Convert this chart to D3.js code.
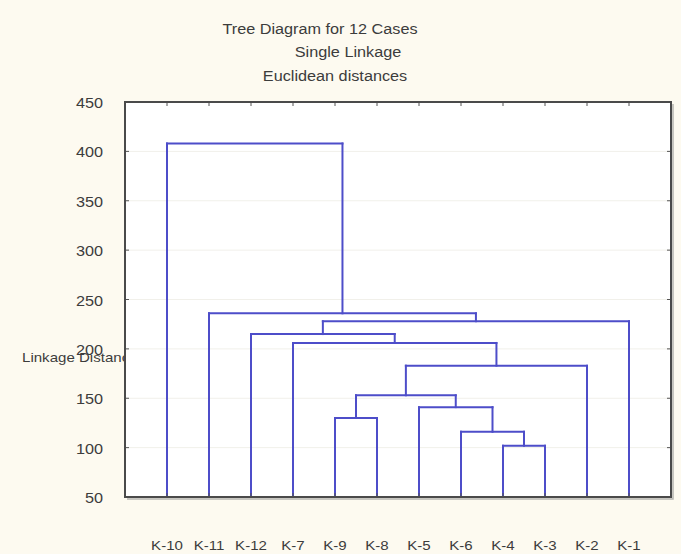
<!DOCTYPE html>
<html>
<head>
<meta charset="utf-8">
<script src="https://cdn.jsdelivr.net/npm/d3@7"></script>
<style>
  html, body { margin: 0; padding: 0; background: #fdfaf0; }
  svg { display: block; }
  text { font-family: "Liberation Sans", Arial, sans-serif; fill: #3c3c3c; }
</style>
</head>
<body>
<svg id="chart" width="681" height="554"></svg>
<script>
// Cases in dendrogram leaf order (left to right)
const cases = ["K-10", "K-11", "K-12", "K-7", "K-9", "K-8", "K-5", "K-6", "K-4", "K-3", "K-2", "K-1"];

// Single-linkage merge steps: merge i creates cluster "#i" from mergeLeft[i] and mergeRight[i]
const mergeLeft   = ["K-4", "K-6", "K-9", "K-5", "#2", "#4", "K-7", "K-12", "#7", "K-11", "K-10"];
const mergeRight  = ["K-3", "#0",  "K-8", "#1",  "#3", "K-2", "#5", "#6",   "K-1", "#8",  "#9"];
const mergeHeight = [102,   116,   130,   141,   153,  183,   206,  215,    228,   236,   408];

// Axis ticks
const yTicks = [50, 100, 150, 200, 250, 300, 350, 400, 450];
const titleLines = ["Tree Diagram for 12 Cases", "Single Linkage", "Euclidean distances"];
const yLabel = "Linkage Distance";

const svg = d3.select("#chart");
const plot = { left: 125, right: 671, top: 102, bottom: 497 };

const x = d3.scalePoint().domain(cases).range([plot.left, plot.right]).padding(1);
const y = d3.scaleLinear().domain([50, 450]).range([plot.bottom, plot.top]);

const stretch = 1.16; // wide rendering of the chart's lettering

function addText(g, str, tx, ty, size, anchor) {
  return g.append("text")
    .attr("transform", `translate(${tx},${ty}) scale(${stretch},1)`)
    .attr("font-size", size)
    .attr("text-anchor", anchor)
    .text(str);
}

// Titles
const titleCenters = [320, 348, 335];
const titleBaselines = [34, 57, 81];
titleLines.forEach((t, i) => addText(svg, t, titleCenters[i], titleBaselines[i], 14, "middle"));

// Y axis title (partly covered by the plot frame)
addText(svg, yLabel, 22, 362, 13, "start");

// Plot background
svg.append("rect")
  .attr("x", plot.left).attr("y", plot.top)
  .attr("width", plot.right - plot.left).attr("height", plot.bottom - plot.top)
  .attr("fill", "#ffffff");

// Faint horizontal gridlines
svg.append("g").selectAll("line").data(yTicks.slice(1, -1)).join("line")
  .attr("x1", plot.left).attr("x2", plot.right)
  .attr("y1", d => y(d)).attr("y2", d => y(d))
  .attr("stroke", "#f1f0ea").attr("stroke-width", 1);

// Resolve cluster positions and heights
const node = {};
cases.forEach(c => { node[c] = { x: x(c), h: y.domain()[0] }; });
const segs = [];
mergeHeight.forEach((h, i) => {
  const a = node[mergeLeft[i]], b = node[mergeRight[i]];
  segs.push({ x1: a.x, y1: y(h), x2: b.x, y2: y(h) });   // crossbar
  segs.push({ x1: a.x, y1: y(a.h), x2: a.x, y2: y(h) }); // left leg
  segs.push({ x1: b.x, y1: y(b.h), x2: b.x, y2: y(h) }); // right leg
  node["#" + i] = { x: (a.x + b.x) / 2, h: h };
});

svg.append("g").selectAll("line").data(segs).join("line")
  .attr("x1", d => d.x1).attr("y1", d => d.y1)
  .attr("x2", d => d.x2).attr("y2", d => d.y2)
  .attr("stroke", "#4d4dc9").attr("stroke-width", 2)
  .attr("stroke-linecap", "square");

// Tick marks on all four sides, pointing inward
const tickG = svg.append("g").attr("stroke", "#555").attr("stroke-width", 1);
yTicks.forEach(t => {
  tickG.append("line").attr("x1", plot.left).attr("x2", plot.left + 4).attr("y1", y(t)).attr("y2", y(t));
  tickG.append("line").attr("x1", plot.right - 4).attr("x2", plot.right).attr("y1", y(t)).attr("y2", y(t));
});
cases.forEach(c => {
  tickG.append("line").attr("x1", x(c)).attr("x2", x(c)).attr("y1", plot.top).attr("y2", plot.top + 4);
  tickG.append("line").attr("x1", x(c)).attr("x2", x(c)).attr("y1", plot.bottom - 4).attr("y2", plot.bottom);
});

// Frame with a soft lower-right shadow
svg.append("polyline")
  .attr("points", `${plot.left + 2},${plot.bottom + 2} ${plot.right + 2},${plot.bottom + 2} ${plot.right + 2},${plot.top + 2}`)
  .attr("fill", "none").attr("stroke", "#b5b5b0").attr("stroke-width", 1.5);
svg.append("rect")
  .attr("x", plot.left).attr("y", plot.top)
  .attr("width", plot.right - plot.left).attr("height", plot.bottom - plot.top)
  .attr("fill", "none").attr("stroke", "#4a4a4a").attr("stroke-width", 2);

// Y tick labels
yTicks.forEach(t => addText(svg, String(t), 103, y(t) + 6, 14, "end"));

// Case labels
cases.forEach(c => addText(svg, c, x(c), 550, 13, "middle"));
</script>
</body>
</html>
